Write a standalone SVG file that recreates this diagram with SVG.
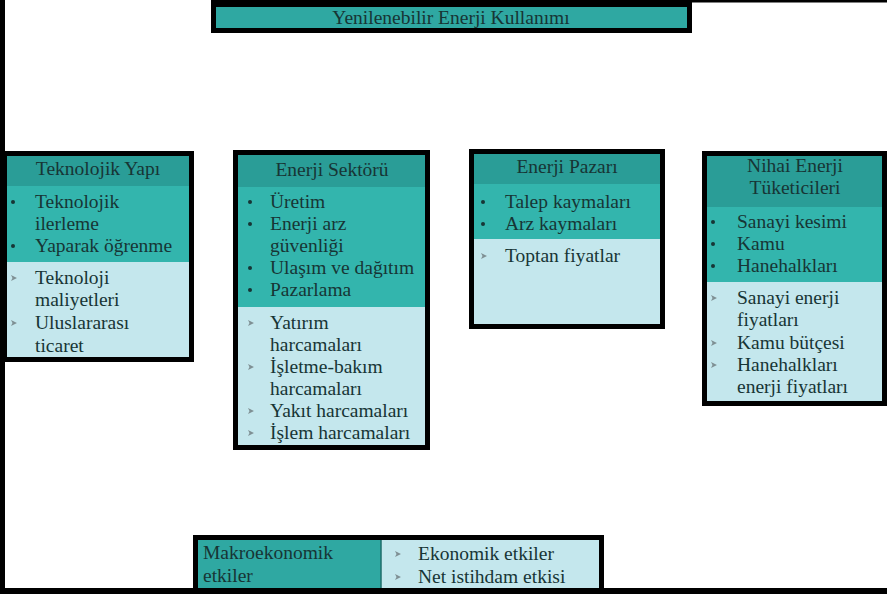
<svg xmlns="http://www.w3.org/2000/svg" width="887" height="594" viewBox="0 0 887 594">
<rect width="887" height="594" fill="#fff"/>
<g id="frame">
<rect x="0" y="0" width="5" height="594" fill="#000"/>
<rect x="211" y="0" width="676" height="2.5" fill="#000"/>
</g>
<g id="title">
<rect x="213.5" y="4.5" width="476" height="26" fill="#2fa8a2" stroke="#000" stroke-width="5"/>
<text font-family="Times New Roman, Liberation Serif, Tinos, serif" font-size="19.5" fill="#173535" text-anchor="middle" x="451" y="23.5">Yenilenebilir Enerji Kullanımı</text>
</g>
<g id="teknolojik">
<rect x="5" y="154" width="188" height="32" fill="#2a9d97"/>
<rect x="5" y="186" width="188" height="76" fill="#33b5ad"/>
<rect x="5" y="262" width="188" height="98" fill="#c4e7ed"/>
<rect x="4.5" y="153.5" width="187" height="206" fill="none" stroke="#000" stroke-width="5"/>
<g fill="#173535"><circle cx="13" cy="202" r="2"/><circle cx="13" cy="246" r="2"/></g>
<g fill="#7f9094"><path d="M11 275l6 3-6 3 1.5-3z"/><path d="M11 320l6 3-6 3 1.5-3z"/></g>
<g font-family="Times New Roman, Liberation Serif, Tinos, serif" font-size="19.5" fill="#173535">
<text text-anchor="middle" x="98" y="175">Teknolojik Yapı</text>
<text x="35" y="208">Teknolojik</text>
<text x="35" y="230">ilerleme</text>
<text x="35" y="252">Yaparak öğrenme</text>
<text x="35" y="284">Teknoloji</text>
<text x="35" y="306">maliyetleri</text>
<text x="35" y="329">Uluslararası</text>
<text x="35" y="352">ticaret</text>
</g>
</g>
<g id="sektor">
<rect x="236" y="155" width="192" height="32" fill="#2a9d97"/>
<rect x="236" y="187" width="192" height="120" fill="#33b5ad"/>
<rect x="236" y="307" width="192" height="141" fill="#c4e7ed"/>
<rect x="235.5" y="152.5" width="192" height="295" fill="none" stroke="#000" stroke-width="5"/>
<g fill="#173535"><circle cx="250" cy="202" r="2"/><circle cx="250" cy="224" r="2"/><circle cx="250" cy="268" r="2"/><circle cx="250" cy="290" r="2"/></g>
<g fill="#7f9094"><path d="M248 320l6 3-6 3 1.5-3z"/><path d="M248 364l6 3-6 3 1.5-3z"/><path d="M248 408l6 3-6 3 1.5-3z"/><path d="M248 430l6 3-6 3 1.5-3z"/></g>
<g font-family="Times New Roman, Liberation Serif, Tinos, serif" font-size="19.5" fill="#173535">
<text text-anchor="middle" x="332" y="176">Enerji Sektörü</text>
<text x="270" y="208">Üretim</text>
<text x="270" y="230">Enerji arz</text>
<text x="270" y="252">güvenliği</text>
<text x="270" y="274">Ulaşım ve dağıtım</text>
<text x="270" y="296">Pazarlama</text>
<text x="270" y="329">Yatırım</text>
<text x="270" y="351">harcamaları</text>
<text x="270" y="373">İşletme-bakım</text>
<text x="270" y="395">harcamaları</text>
<text x="270" y="417">Yakıt harcamaları</text>
<text x="270" y="439">İşlem harcamaları</text>
</g>
</g>
<g id="pazar">
<rect x="472" y="154" width="191" height="30" fill="#2a9d97"/>
<rect x="472" y="184" width="191" height="55" fill="#33b5ad"/>
<rect x="472" y="239" width="191" height="87" fill="#c4e7ed"/>
<rect x="471.5" y="151.5" width="191" height="175" fill="none" stroke="#000" stroke-width="5"/>
<g fill="#173535"><circle cx="483" cy="202" r="2"/><circle cx="483" cy="224" r="2"/></g>
<path fill="#7f9094" d="M481 253l6 3-6 3 1.5-3z"/>
<g font-family="Times New Roman, Liberation Serif, Tinos, serif" font-size="19.5" fill="#173535">
<text text-anchor="middle" x="567" y="173">Enerji Pazarı</text>
<text x="505" y="208">Talep kaymaları</text>
<text x="505" y="230">Arz kaymaları</text>
<text x="505" y="262">Toptan fiyatlar</text>
</g>
</g>
<g id="tuketici">
<rect x="705" y="156" width="180" height="51" fill="#2a9d97"/>
<rect x="705" y="207" width="180" height="75" fill="#33b5ad"/>
<rect x="705" y="282" width="180" height="122" fill="#c4e7ed"/>
<rect x="704.5" y="153.5" width="180" height="250" fill="none" stroke="#000" stroke-width="5"/>
<g fill="#173535"><circle cx="713" cy="222" r="2"/><circle cx="713" cy="244" r="2"/><circle cx="713" cy="266" r="2"/></g>
<g fill="#7f9094"><path d="M711 295l6 3-6 3 1.5-3z"/><path d="M711 340l6 3-6 3 1.5-3z"/><path d="M711 362l6 3-6 3 1.5-3z"/></g>
<g font-family="Times New Roman, Liberation Serif, Tinos, serif" font-size="19.5" fill="#173535">
<text text-anchor="middle" x="795" y="172">Nihai Enerji</text>
<text text-anchor="middle" x="795" y="194">Tüketicileri</text>
<text x="737" y="228">Sanayi kesimi</text>
<text x="737" y="250">Kamu</text>
<text x="737" y="272">Hanehalkları</text>
<text x="737" y="304">Sanayi enerji</text>
<text x="737" y="326">fiyatları</text>
<text x="737" y="349">Kamu bütçesi</text>
<text x="737" y="371">Hanehalkları</text>
<text x="737" y="393">enerji fiyatları</text>
</g>
</g>
<g id="makro">
<rect x="196" y="540" width="185" height="50" fill="#2fa8a2"/>
<rect x="381" y="540" width="220" height="50" fill="#c4e7ed"/>
<line x1="381" y1="540" x2="381" y2="590" stroke="#1e6e6a" stroke-width="1.5"/>
<rect x="195.5" y="537.5" width="406" height="60" fill="none" stroke="#000" stroke-width="5"/>
<g fill="#7f9094"><path d="M395 551l6 3-6 3 1.5-3z"/><path d="M395 574l6 3-6 3 1.5-3z"/></g>
<g font-family="Times New Roman, Liberation Serif, Tinos, serif" font-size="19.5" fill="#173535">
<text x="203" y="559">Makroekonomik</text>
<text x="203" y="582">etkiler</text>
<text x="418" y="560">Ekonomik etkiler</text>
<text x="418" y="583">Net istihdam etkisi</text>
</g>
</g>
<rect x="0" y="588" width="887" height="6" fill="#000"/>
</svg>
